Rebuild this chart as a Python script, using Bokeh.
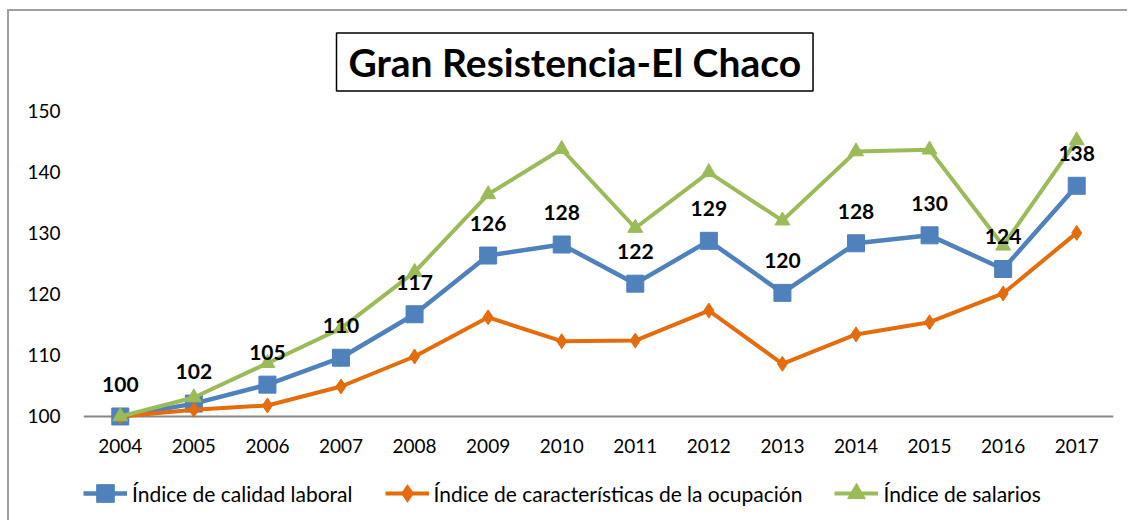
from bokeh.plotting import figure
from bokeh.models import (Range1d, FixedTicker, Span, Legend, LegendItem,
                          ColumnDataSource)
from bokeh.core.properties import value
from bokeh.embed import file_html
from bokeh.resources import INLINE

# ---- data ----
years = [2004, 2005, 2006, 2007, 2008, 2009, 2010, 2011, 2012, 2013, 2014, 2015, 2016, 2017]
calidad = [100, 102.1, 105.2, 109.6, 116.7, 126.3, 128.1, 121.7, 128.7, 120.2, 128.3, 129.6, 124.1, 137.7]
caracteristicas = [100, 101.1, 101.8, 104.9, 109.8, 116.2, 112.3, 112.4, 117.3, 108.6, 113.4, 115.4, 120.1, 130.0]
salarios = [100, 103.1, 108.7, 114.4, 123.6, 136.3, 143.7, 130.8, 139.9, 132.0, 143.3, 143.6, 127.9, 145.1]
y_ticks = [100, 110, 120, 130, 140, 150]
series_names = ["Índice de calidad laboral",
                "Índice de características de la ocupación",
                "Índice de salarios"]
title_text = "Gran Resistencia-El Chaco"

FONT = "Lato"

p = figure(frame_width=1030, frame_height=410, output_backend="svg", toolbar_location=None,
           x_range=Range1d(2003.5, 2017.5), y_range=Range1d(83, 150),
           min_border_left=74, min_border_right=14, min_border_top=98, min_border_bottom=0,
           title=title_text)
p.styles = {"border-top": "2px solid #a0a0a0", "border-left": "2px solid #a0a0a0",
            "margin-top": "9px", "margin-left": "7px"}
p.outline_line_color = None
p.grid.visible = False
p.background_fill_color = "white"
p.border_fill_color = "white"

# title box
p.title.align = "left"
p.title.offset = 253
p.title.standoff = 39
p.title.text_font = FONT
p.title.text_font_style = "bold"
p.title.text_font_size = "39px"
p.title.text_color = "black"
p.title.border_line_color = "black"
p.title.border_line_width = 1.5
p.title.padding = (12, 6)

# axes
p.xaxis.ticker = FixedTicker(ticks=years)
p.xaxis.fixed_location = 100
p.yaxis.ticker = FixedTicker(ticks=y_ticks)
for ax in (p.xaxis[0], p.yaxis[0]):
    ax.axis_line_color = None
    ax.major_tick_line_color = None
    ax.minor_tick_line_color = None
    ax.major_tick_out = 0
    ax.major_tick_in = 0
    ax.major_label_text_font = FONT
    ax.major_label_text_font_size = "19px"
    ax.major_label_text_color = "black"
p.xaxis.major_label_standoff = 23
p.yaxis.major_label_standoff = 23

# baseline at 100
p.add_layout(Span(location=100, dimension="width", line_color="#868686",
                  line_width=2, level="underlay"))

src = ColumnDataSource(dict(x=years, a=calidad, b=caracteristicas, c=salarios,
                            lab=["{:.0f}".format(v) for v in calidad]))

BLUE, ORANGE, GREEN = "#4F81BD", "#E46C0A", "#9BBB59"

l1 = p.line("x", "a", source=src, line_color=BLUE, line_width=4.5)
m1 = p.scatter("x", "a", source=src, marker="square", size=17, fill_color=BLUE, line_color=BLUE)
l2 = p.line("x", "b", source=src, line_color=ORANGE, line_width=4)
m2 = p.scatter("x", "b", source=src, marker="diamond", size=15, fill_color=ORANGE, line_color=ORANGE)
l3 = p.line("x", "c", source=src, line_color=GREEN, line_width=4)
m3 = p.scatter("x", "c", source=src, marker="triangle", size=15, fill_color=GREEN, line_color=GREEN)

p.text("x", "a", text="lab", source=src, y_offset=-32, text_align="center",
       text_baseline="middle", text_font=value(FONT), text_font_style="bold",
       text_font_size="21px", text_color="black")

legend = Legend(items=[LegendItem(label=series_names[0], renderers=[l1, m1]),
                       LegendItem(label=series_names[1], renderers=[l2, m2]),
                       LegendItem(label=series_names[2], renderers=[l3, m3])],
                orientation="horizontal", location=(0, 5),
                glyph_width=44, glyph_height=44, label_standoff=5, spacing=32,
                padding=0, margin=0, border_line_color=None, background_fill_alpha=0,
                label_text_font=FONT, label_text_font_size="21px", label_text_color="black")
p.add_layout(legend, "center")

open("out.html", "w").write(file_html(p, INLINE))
